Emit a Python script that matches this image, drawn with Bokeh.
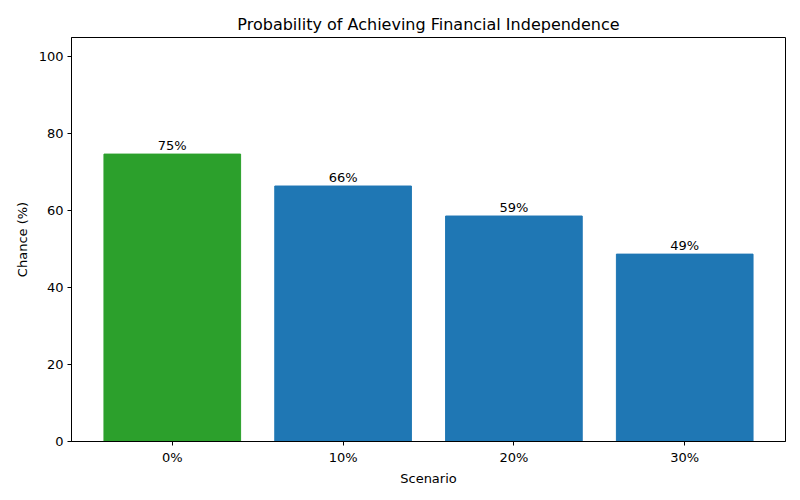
from bokeh.core.properties import value
from bokeh.embed import file_html
from bokeh.models import ColumnDataSource, FixedTicker, Range1d
from bokeh.plotting import figure
from bokeh.resources import INLINE

scenarios = ["0%", "10%", "20%", "30%"]
chances = [74.7, 66.4, 58.6, 48.7]
bar_colors = ["#2ca02c", "#1f77b4", "#1f77b4", "#1f77b4"]
y_ticks = [0, 20, 40, 60, 80, 100]

FONT = "DejaVu Sans"

xs = list(range(len(scenarios)))
source = ColumnDataSource(data=dict(
    x=xs,
    chance=chances,
    color=bar_colors,
    label=[f"{round(c)}%" for c in chances],
))

p = figure(
    width=800, height=500,
    x_range=Range1d(-0.59, len(scenarios) - 1 + 0.59),
    y_range=Range1d(0, 105),
    output_backend="svg", toolbar_location=None,
    min_border_left=71, min_border_right=15,
    min_border_top=37, min_border_bottom=59,
)

p.vbar(x="x", top="chance", width=0.8, color="color", source=source)
p.text(x="x", y="chance", text="label", source=source,
       text_align="center", text_baseline="bottom",
       text_font=value(FONT), text_font_size="13px", text_color="black",
       y_offset=-1)

p.title.text = "Probability of Achieving Financial Independence"
p.title.align = "center"
p.title.text_font = FONT
p.title.text_font_size = "16px"
p.title.text_font_style = "normal"
p.title.text_color = "black"
p.title.standoff = 8

p.xgrid.visible = False
p.ygrid.visible = False
p.outline_line_color = "black"
p.outline_line_alpha = 1

p.xaxis.ticker = FixedTicker(ticks=xs)
p.xaxis.major_label_overrides = {i: s for i, s in enumerate(scenarios)}
p.yaxis.ticker = FixedTicker(ticks=y_ticks)
p.xaxis.axis_label = "Scenario"
p.yaxis.axis_label = "Chance (%)"

for ax in (p.xaxis, p.yaxis):
    ax.axis_line_color = "black"
    ax.major_tick_line_color = "black"
    ax.major_tick_out = 4
    ax.major_tick_in = 0
    ax.minor_tick_line_color = None
    ax.major_label_text_font = FONT
    ax.major_label_text_font_size = "13px"
    ax.major_label_text_color = "black"
    ax.axis_label_text_font = FONT
    ax.axis_label_text_font_size = "13px"
    ax.axis_label_text_font_style = "normal"
    ax.axis_label_text_color = "black"
    ax.major_label_standoff = 4
    ax.axis_label_standoff = 6
p.xaxis.axis_label_standoff = 3

open("out.html", "w").write(file_html(p, INLINE))
